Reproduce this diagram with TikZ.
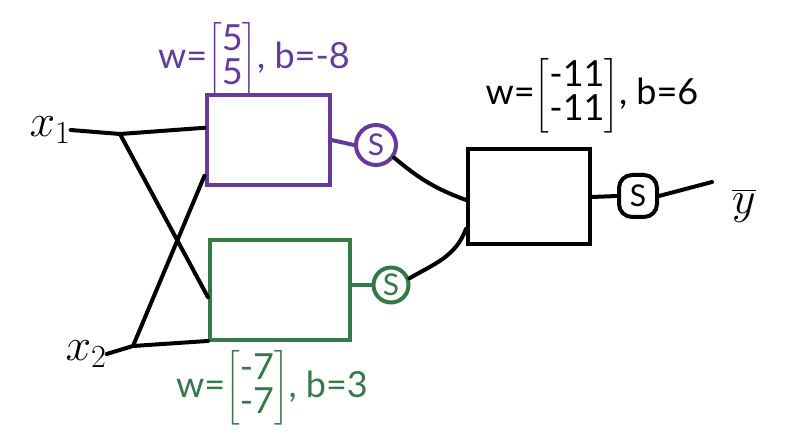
\documentclass[tikz,border=0pt]{standalone}
\usepackage{fix-cm}
\usepackage{amsmath}
\usepackage{fontspec}
\setmainfont{Lato}
\usetikzlibrary{calc}
\definecolor{pcol}{RGB}{102,58,156}
\definecolor{gcol}{RGB}{52,122,72}
\begin{document}
\begin{tikzpicture}[x=1pt,y=-1pt,
  wire/.style={line width=4pt,line cap=round,line join=round},
  neuron/.style={draw,line width=4pt,minimum width=#1,inner sep=0pt},
  sig/.style={draw,circle,line width=4pt,inner sep=0pt,minimum size=40pt,font=\fontsize{30}{32}\selectfont},
  lbl/.style={font=\fontsize{36}{40}\selectfont,inner sep=0pt},
  inlbl/.style={font=\fontsize{46}{50}\selectfont,inner sep=0pt}]
\useasboundingbox (0,0) rectangle (792,446);
% boxes
\node[neuron=123pt,minimum height=90pt,color=pcol] (pbox) at (268,140) {};
\node[neuron=140pt,minimum height=100pt,color=gcol] (gbox) at (280,290) {};
\node[neuron=122pt,minimum height=95pt] (bbox) at (529,197) {};
% sigmoid units
\node[sig,color=pcol] (pc) at (376,145) {S};
\node[sig,color=gcol,minimum size=35pt] (gc) at (391,285) {S};
\node[sig,rounded corners=13pt,rectangle,minimum width=38pt,minimum height=42pt] (bc) at (638,196) {S};
% inputs
\node[inlbl] (x1) at (50,130) {$x_1$};
\node[inlbl] (x2) at (86,354) {$x_2$};
\node[inlbl] (y) at (744,206) {$\overline{y}$};
% labels
\node[lbl,color=pcol] (lp) at (254,60) {w=$\left[\begin{array}{@{}c@{}}\text{5}\\[-6pt]\text{5}\end{array}\right]$, b=-8};
\node[lbl] (lb) at (592,96) {w=$\left[\begin{array}{@{}c@{}}\text{-11}\\[-6pt]\text{-11}\end{array}\right]$, b=6};
\node[lbl,color=gcol] (lg) at (272,388) {w=$\left[\begin{array}{@{}c@{}}\text{-7}\\[-6pt]\text{-7}\end{array}\right]$, b=3};
% junctions
\coordinate (s1) at (120,134);
\coordinate (s2) at (133,346);
\coordinate (pin1) at ($(pbox.north west)!0.37!(pbox.south west)$);
\coordinate (pin2) at ($(pbox.north west)!0.88!(pbox.south west)$);
\coordinate (gin1) at ($(gbox.north west)!0.57!(gbox.south west)$);
\coordinate (gin2) at ($(gbox.north west)!0.99!(gbox.south west)$);
\coordinate (bin1) at ($(bbox.north west)!0.53!(bbox.south west)$);
\coordinate (bin2) at ($(bbox.north west)!0.82!(bbox.south west)$);
\coordinate (yend) at (712,182);
% wires
\draw[wire] (x1.east) -- (s1) -- (pin1);
\draw[wire] (s1) -- (gin1);
\draw[wire] (x2.east) -- (s2) -- (gin2);
\draw[wire] (s2) -- (pin2);
\draw[wire,color=pcol] (pbox.east) -- (pc.west);
\draw[wire,color=gcol] (gbox.east|-gc) -- (gc.west);
\draw[wire] (pc.-35) to[out=-40,in=160] (bin1);
\draw[wire] (gc.20) to[out=30,in=-110] (bin2);
\draw[wire] (bbox.east) -- (bc.west);
\draw[wire] (bc.east) -- (yend);
\end{tikzpicture}
\end{document}
